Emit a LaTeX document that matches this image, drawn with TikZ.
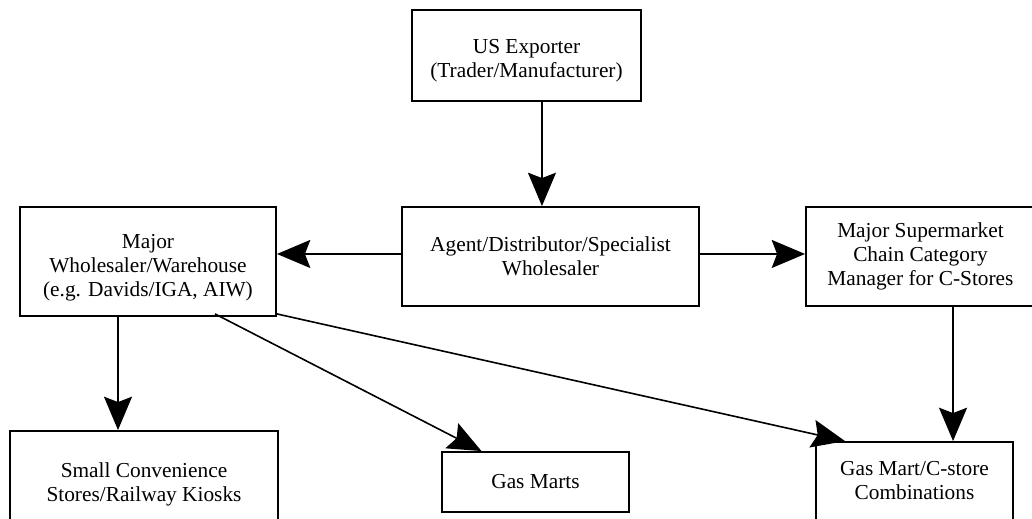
\documentclass[tikz,border=0pt]{standalone}
\usepackage{fontspec}
\setmainfont{Liberation Serif}
\usepackage{xcolor}
\usepackage{tikz}
\usetikzlibrary{arrows.meta, positioning}

\newcommand{\toppad}[1]{\rule{0pt}{#1}}

\begin{document}
\begin{tikzpicture}[
    x=0.75pt, y=-0.75pt,
    box/.style={rectangle, draw, line width=1.4pt, align=center, inner sep=0pt,
        font=\fontsize{16}{18}\selectfont},
    arr/.style={-{Stealth[length=25pt, width=21pt, inset=4pt]}, line width=1.4pt}
]
\useasboundingbox (0,0) rectangle (1032,518);

\node[box, minimum width=171.75pt, minimum height=68.25pt] (exporter) at (526.5,55.5) {\toppad{18pt}US Exporter\\(Trader/Manufacturer)};
\node[box, minimum width=222.75pt, minimum height=74.25pt] (agent) at (550.5,256.5) {Agent/Distributor/Specialist\\Wholesaler};
\node[box, minimum width=192pt, minimum height=81.75pt] (wholesaler) at (148,261.5) {\toppad{20pt}Major\\Wholesaler/Warehouse\\(e.g. Davids/IGA, AIW)};
\node[box, minimum width=171.75pt, minimum height=74.25pt] (supermarket) at (920.5,256.5) {Major Supermarket\\Chain Category\\Manager for C-Stores};
\node[box, minimum width=201pt, minimum height=79.5pt] (smallconv) at (144,484) {Small Convenience\\Stores/Railway Kiosks};
\node[box, minimum width=140.25pt, minimum height=45pt] (gasmarts) at (535.5,482) {Gas Marts};
\node[box, minimum width=147.75pt, minimum height=58.5pt] (combo) at (914.5,481) {Gas Mart/C-store\\Combinations};

\coordinate (t1) at ([xshift=-6.4pt]agent.north);
\coordinate (t2) at ([xshift=-19.5pt]smallconv.north);
\coordinate (t3) at ([xshift=24.4pt]supermarket.south);

\draw[arr] (exporter.south -| t1) -- (t1);
\draw[arr] ([yshift=1.9pt]agent.west) -- ([yshift=1.9pt]agent.west -| wholesaler.east);
\draw[arr] ([yshift=1.9pt]agent.east) -- ([yshift=1.9pt]agent.east -| supermarket.west);
\draw[arr] (wholesaler.south -| t2) -- (t2);
\draw[arr, line width=1.2pt] ([xshift=50.25pt, yshift=2.25pt]wholesaler.south) -- ([xshift=-40.5pt]gasmarts.north);
\draw[arr, line width=1.2pt] ([yshift=2.25pt]wholesaler.south east) -- ([xshift=-52.1pt]combo.north);
\draw[arr] (t3) -- (t3 |- combo.north);
\end{tikzpicture}
\end{document}
